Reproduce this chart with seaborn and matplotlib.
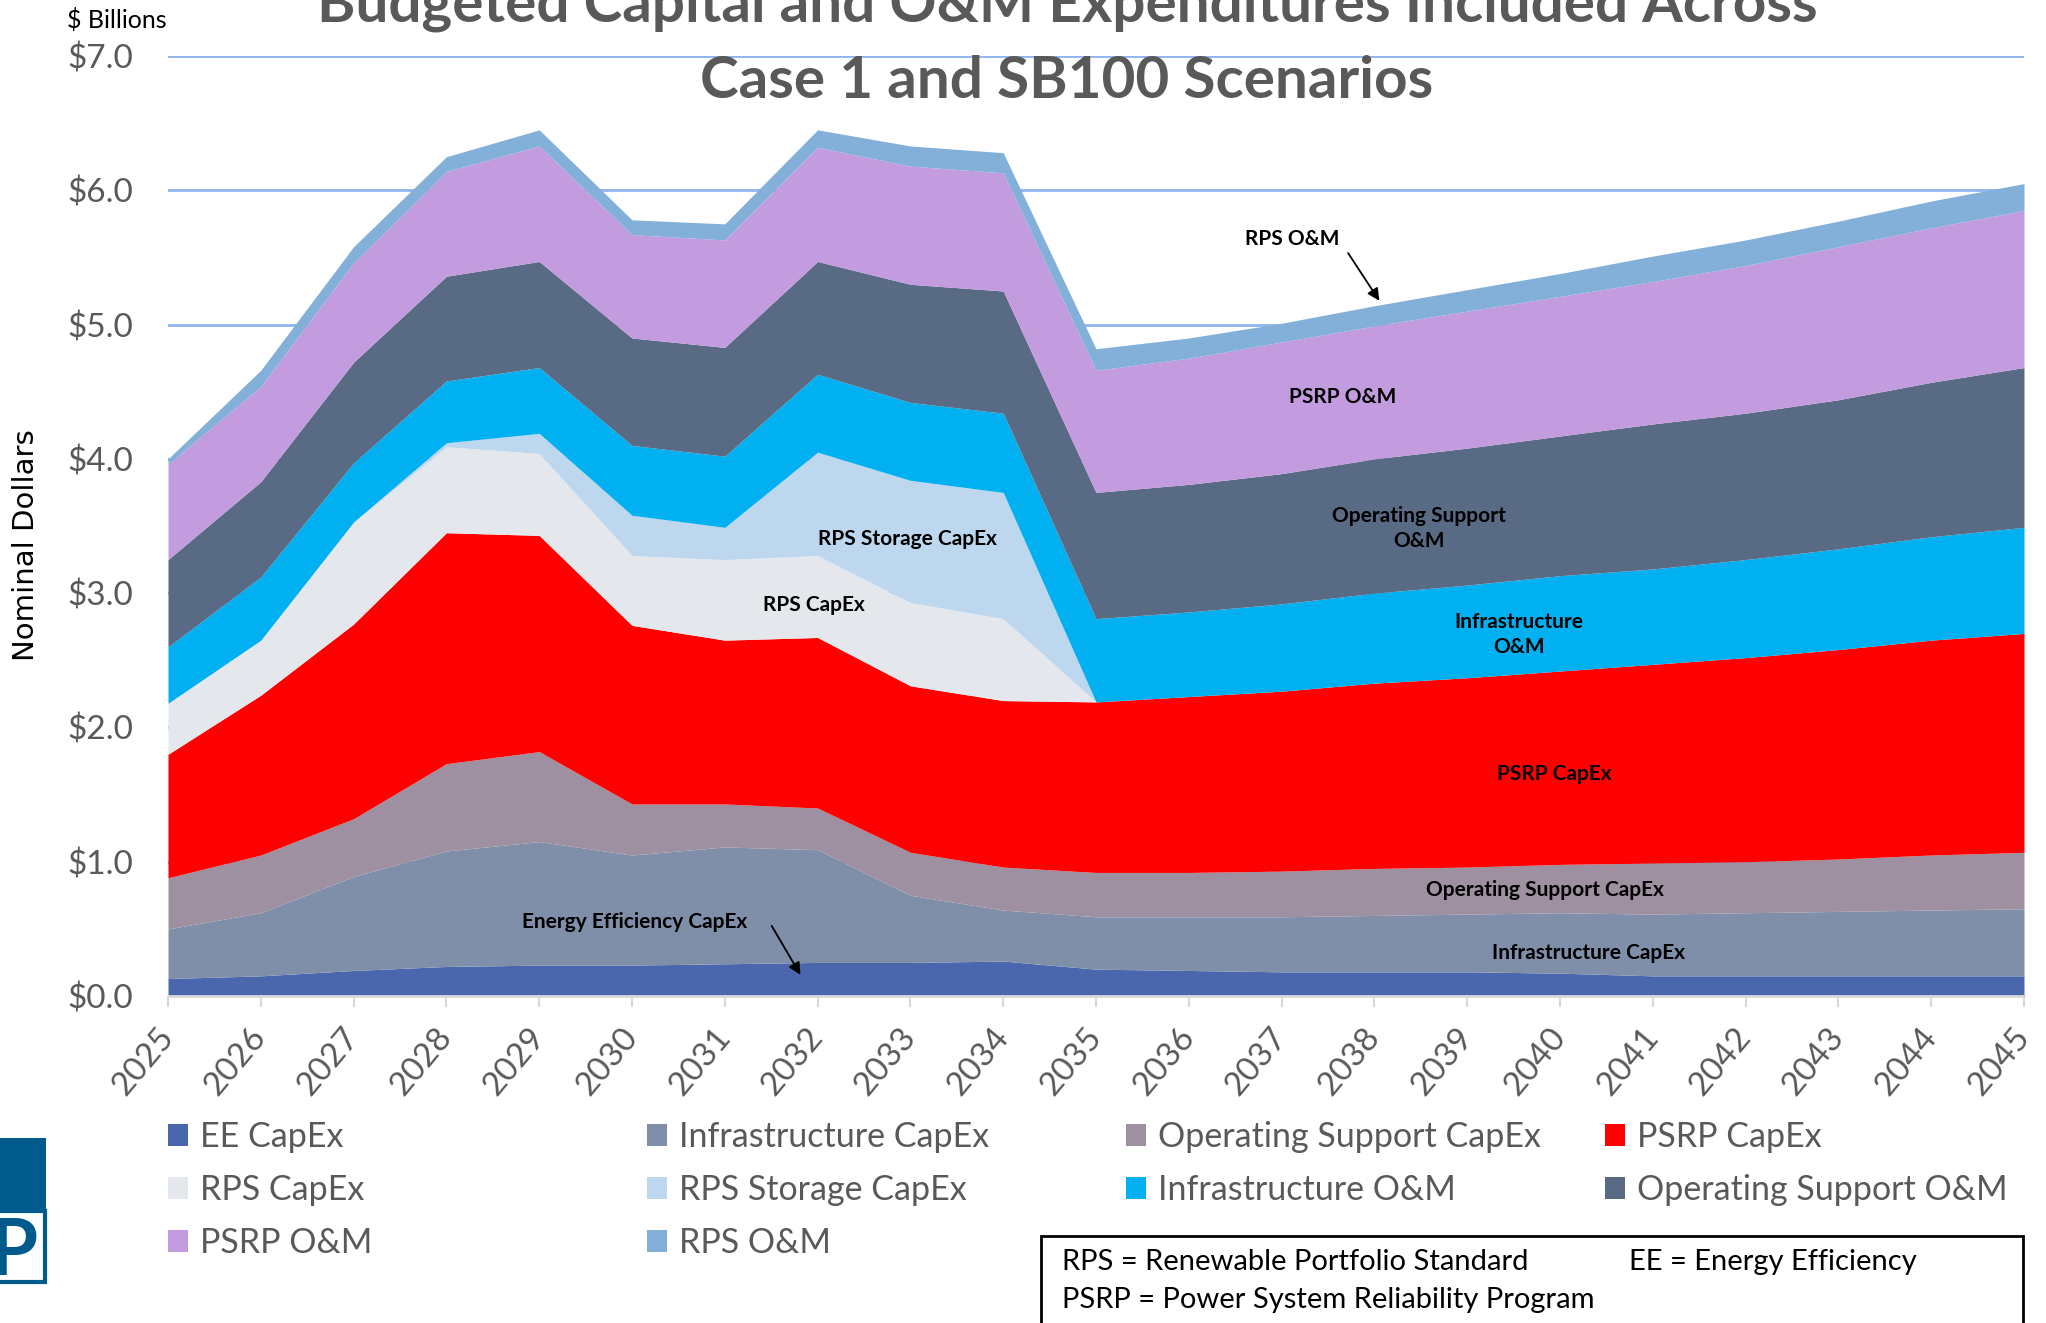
import matplotlib
matplotlib.use("Agg")
import matplotlib.pyplot as plt
import matplotlib.transforms as mtransforms
from matplotlib.patches import Patch, Rectangle
import seaborn as sns

# data ($ billions, nominal)
years = list(range(2025, 2046))

ee_capex = [0.13, 0.15, 0.19, 0.22, 0.23, 0.23, 0.24, 0.25, 0.25, 0.26, 0.20,
            0.19, 0.18, 0.18, 0.18, 0.17, 0.15, 0.15, 0.15, 0.15, 0.15]
infra_capex = [0.37, 0.47, 0.70, 0.86, 0.92, 0.82, 0.87, 0.84, 0.50, 0.38, 0.39,
               0.40, 0.41, 0.42, 0.43, 0.45, 0.46, 0.47, 0.48, 0.49, 0.50]
opsup_capex = [0.38, 0.43, 0.43, 0.65, 0.67, 0.38, 0.32, 0.31, 0.32, 0.32, 0.33,
               0.33, 0.34, 0.35, 0.35, 0.36, 0.38, 0.38, 0.39, 0.41, 0.42]
psrp_capex = [0.92, 1.19, 1.45, 1.72, 1.61, 1.33, 1.22, 1.27, 1.24, 1.24, 1.27,
              1.31, 1.34, 1.38, 1.41, 1.44, 1.48, 1.52, 1.56, 1.60, 1.63]
rps_capex = [0.38, 0.41, 0.76, 0.64, 0.61, 0.52, 0.60, 0.61, 0.62, 0.61, 0.0,
             0.0, 0.0, 0.0, 0.0, 0.0, 0.0, 0.0, 0.0, 0.0, 0.0]
rps_storage_capex = [0.0, 0.0, 0.0, 0.03, 0.15, 0.30, 0.24, 0.77, 0.91, 0.94, 0.0,
                     0.0, 0.0, 0.0, 0.0, 0.0, 0.0, 0.0, 0.0, 0.0, 0.0]
infra_om = [0.42, 0.47, 0.44, 0.46, 0.49, 0.52, 0.53, 0.58, 0.58, 0.59, 0.62,
            0.63, 0.65, 0.67, 0.69, 0.71, 0.71, 0.73, 0.75, 0.77, 0.79]
opsup_om = [0.65, 0.71, 0.75, 0.78, 0.79, 0.80, 0.81, 0.84, 0.88, 0.91, 0.94,
            0.95, 0.97, 1.00, 1.02, 1.04, 1.08, 1.09, 1.11, 1.15, 1.19]
psrp_om = [0.71, 0.71, 0.74, 0.78, 0.86, 0.77, 0.80, 0.85, 0.88, 0.88, 0.91,
           0.94, 0.98, 0.99, 1.02, 1.04, 1.06, 1.10, 1.14, 1.15, 1.17]
rps_om = [0.04, 0.12, 0.12, 0.11, 0.12, 0.11, 0.12, 0.13, 0.15, 0.15, 0.16,
          0.15, 0.14, 0.15, 0.16, 0.17, 0.19, 0.19, 0.19, 0.20, 0.20]

series_names = ["EE CapEx", "Infrastructure CapEx", "Operating Support CapEx", "PSRP CapEx",
                "RPS CapEx", "RPS Storage CapEx", "Infrastructure O&M", "Operating Support O&M",
                "PSRP O&M", "RPS O&M"]
series_values = [ee_capex, infra_capex, opsup_capex, psrp_capex, rps_capex,
                 rps_storage_capex, infra_om, opsup_om, psrp_om, rps_om]
series_colors = ["#4A66AC", "#7F8FA9", "#9E90A0", "#FF0000", "#E4E7EC",
                 "#BDD7EE", "#00B0F0", "#596A84", "#C39BDF", "#83B0D9"]

y_ticks = [0, 1, 2, 3, 4, 5, 6, 7]

sns.set_theme(style="white")
plt.rcParams["font.family"] = ["Lato", "DejaVu Sans"]
palette = sns.color_palette(series_colors)
GRAY = "#595959"

fig = plt.figure(figsize=(20.46, 13.23), dpi=100)
ax = fig.add_axes([168 / 2046, 1 - 996 / 1323, (2024 - 168) / 2046, (996 - 56) / 1323])

ax.stackplot(years, *series_values, colors=palette, labels=series_names, linewidth=0, zorder=2)

ax.set_xlim(2025, 2045)
ax.set_ylim(0, 7)
ax.set_yticks(y_ticks)
ax.set_yticklabels([f"${v:.1f}" for v in y_ticks], color=GRAY, fontsize=24)
ax.set_xticks(years)
ax.set_xticklabels([str(y) for y in years], rotation=50, ha="right", va="center",
                   rotation_mode="anchor", color=GRAY, fontsize=24)
shift = mtransforms.ScaledTranslation(0.12, -0.03, fig.dpi_scale_trans)
for lbl in ax.get_xticklabels():
    lbl.set_transform(lbl.get_transform() + shift)
ax.yaxis.grid(True, color="#8FB4EE", linewidth=2, zorder=0)
ax.xaxis.grid(False)
ax.set_axisbelow(True)
for side in ["left", "top", "right"]:
    ax.spines[side].set_visible(False)
ax.spines["bottom"].set_color("#D9D9D9")
ax.spines["bottom"].set_linewidth(2)
ax.spines["bottom"].set_zorder(3)
ax.tick_params(axis="y", length=0, pad=25)
ax.tick_params(axis="x", direction="out", length=8, width=1.5, color="#D9D9D9",
               pad=18, bottom=True)

# in-chart labels
lab = dict(fontsize=15, fontweight="bold", color="black", ha="center", va="center", zorder=5)
ax.text(2032.97, 3.40, "RPS Storage CapEx", **lab)
ax.text(2031.96, 2.91, "RPS CapEx", **lab)
ax.text(2037.66, 4.46, "PSRP O&M", **lab)
ax.text(2038.48, 3.48, "Operating Support\nO&M", linespacing=1.3, **lab)
ax.text(2039.56, 2.69, "Infrastructure\nO&M", linespacing=1.3, **lab)
ax.text(2039.94, 1.65, "PSRP CapEx", **lab)
ax.text(2039.84, 0.79, "Operating Support CapEx", **lab)
ax.text(2040.31, 0.32, "Infrastructure CapEx", **lab)
ax.text(2037.11, 5.64, "RPS O&M", **lab)
ax.text(2030.03, 0.55, "Energy Efficiency CapEx", **lab)
arrow = dict(arrowstyle="-|>", color="black", lw=1.3, mutation_scale=18)
ax.annotate("", xy=(2038.07, 5.16), xytext=(2037.70, 5.55), arrowprops=arrow, zorder=5)
ax.annotate("", xy=(2031.83, 0.14), xytext=(2031.49, 0.54), arrowprops=arrow, zorder=5)

# titles and axis captions
fig.text(1067 / 2046, 1 - 22 / 1323, "Budgeted Capital and O&M Expenditures Included Across",
         ha="center", va="baseline", fontsize=42, fontweight="bold", color=GRAY)
fig.text(1067 / 2046, 1 - 98 / 1323, "Case 1 and SB100 Scenarios",
         ha="center", va="baseline", fontsize=42, fontweight="bold", color=GRAY)
fig.text(67 / 2046, 1 - 28 / 1323, "$ Billions", ha="left", va="baseline",
         fontsize=18, color="black")
fig.text(26 / 2046, 1 - 545 / 1323, "Nominal Dollars", rotation=90, ha="center",
         va="center", fontsize=21, color="black", family="DejaVu Sans")

# legend: one legend per column, items laid out row by row
col_x = [168, 647, 1126, 1605]
for c in range(4):
    idx = list(range(c, len(series_names), 4))
    handles = [Patch(facecolor=palette[i], edgecolor="none", label=series_names[i]) for i in idx]
    fig.legend(handles=handles, loc="upper left",
               bbox_to_anchor=(col_x[c] / 2046, 1 - 1121 / 1323),
               frameon=False, fontsize=24.5, labelcolor=GRAY, handlelength=0.6,
               handleheight=0.6, handletextpad=0.35, labelspacing=0.62,
               borderpad=0, borderaxespad=0)

# abbreviation box
fig.patches.append(Rectangle((1041 / 2046, -0.05), (2023 - 1041) / 2046, 0.05 + 1 - 1236 / 1323,
                             transform=fig.transFigure, facecolor="white",
                             edgecolor="black", linewidth=2))
fig.text(1062 / 2046, 1 - 1270 / 1323, "RPS = Renewable Portfolio Standard",
         fontsize=21, color="black", va="baseline")
fig.text(1629 / 2046, 1 - 1270 / 1323, "EE = Energy Efficiency",
         fontsize=21, color="black", va="baseline")
fig.text(1062 / 2046, 1 - 1308 / 1323, "PSRP = Power System Reliability Program",
         fontsize=21, color="black", va="baseline")

# logo fragment at the left edge
logo_blue = "#005A8C"
fig.patches.append(Rectangle((0, 1 - 1210 / 1323), 46 / 2046, 72 / 1323,
                             transform=fig.transFigure, facecolor=logo_blue, edgecolor="none"))
fig.patches.append(Rectangle((-0.01, 1 - 1282 / 1323), 0.01 + 45 / 2046, 71 / 1323,
                             transform=fig.transFigure, facecolor="white",
                             edgecolor=logo_blue, linewidth=3))
fig.text(38 / 2046, 1 - 1275 / 1323, "P", ha="right", va="baseline",
         fontsize=56, fontweight="bold", color=logo_blue)

fig.savefig("out.png", dpi=100)
